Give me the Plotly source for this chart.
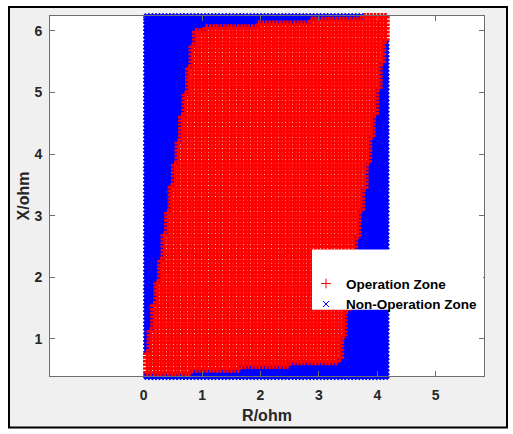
import numpy as np
import plotly.graph_objects as go

# Impedance sweep grid (ohm)
R_START, R_STOP, R_STEP = 0.06, 4.14, 0.06
X_START, X_STOP, X_STEP = 0.40, 6.22, 0.06

# Quadrilateral relay characteristic, vertices in (R, X) order
zone_R = [0.0, 3.36, 4.20, 0.88]
zone_X = [0.40, 0.64, 6.25, 6.03]

x_ticks = [0, 1, 2, 3, 4, 5]
y_ticks = [1, 2, 3, 4, 5, 6]
series_names = ["Operation Zone", "Non-Operation Zone"]


def inside_polygon(px, py, vx, vy):
    """Ray-casting point-in-polygon test, vectorised over px/py."""
    inside = np.zeros(px.shape, dtype=bool)
    n = len(vx)
    j = n - 1
    for i in range(n):
        xi, yi, xj, yj = vx[i], vy[i], vx[j], vy[j]
        cond = ((yi > py) != (yj > py)) & (
            px < (xj - xi) * (py - yi) / (yj - yi + 1e-12) + xi)
        inside ^= cond
        j = i
    return inside


r_vals = np.arange(R_START, R_STOP + R_STEP / 2, R_STEP)
x_vals = np.arange(X_START, X_STOP + X_STEP / 2, X_STEP)
RR, XX = np.meshgrid(r_vals, x_vals)
RR, XX = RR.ravel(), XX.ravel()
trip = inside_polygon(RR, XX, zone_R, zone_X)

fig = go.Figure()

# non-operating points
fig.add_trace(go.Scatter(
    x=RR[~trip], y=XX[~trip], mode="markers", showlegend=False,
    cliponaxis=False, hoverinfo="skip",
    marker=dict(symbol="x-thin", size=6, color="#0000ff",
                line=dict(color="#0000ff", width=3.6))))
# operating points
fig.add_trace(go.Scatter(
    x=RR[trip], y=XX[trip], mode="markers", showlegend=False,
    cliponaxis=False, hoverinfo="skip",
    marker=dict(symbol="cross-thin", size=6, color="#ff0000",
                line=dict(color="#ff0000", width=2.6))))

# legend entries
fig.add_trace(go.Scatter(
    x=[None], y=[None], mode="markers", name=series_names[0],
    marker=dict(symbol="cross-thin", size=7, color="#ff0000",
                line=dict(color="#ff0000", width=1))))
fig.add_trace(go.Scatter(
    x=[None], y=[None], mode="markers", name=series_names[1],
    marker=dict(symbol="x-thin", size=6, color="#0000ff",
                line=dict(color="#0000ff", width=1))))

L, Rpx, T, B = 50, 484, 16, 380
W, H = 513, 434


def px_x(p):
    return (p - L) / (Rpx - L)


def px_y(p):
    return (B - p) / (B - T)


shapes = [
    # window frame
    dict(type="rect", xref="paper", yref="paper", layer="below",
         x0=px_x(9), x1=px_x(507), y0=px_y(432), y1=px_y(7),
         fillcolor="#f0f0f0", line=dict(color="#000000", width=2)),
    # axes background
    dict(type="rect", xref="paper", yref="paper", layer="below",
         x0=0, x1=1, y0=0, y1=1, fillcolor="#ffffff", line=dict(width=0)),
    # legend box
    dict(type="rect", xref="paper", yref="paper", layer="above",
         x0=px_x(312), x1=px_x(483), y0=px_y(313), y1=px_y(252),
         fillcolor="#ffffff", line=dict(width=0)),
]

axis_common = dict(
    showline=True, linecolor="#6e6e6e", linewidth=1, mirror="ticks",
    ticks="inside", ticklen=5, tickcolor="#6e6e6e", showgrid=False,
    zeroline=False,
    tickfont=dict(family="Liberation Sans, Arial", size=14, color="#262626",
                  weight="bold"),
)

fig.update_layout(
    width=W, height=H,
    margin=dict(l=L, r=W - Rpx, t=T, b=H - B),
    paper_bgcolor="#ffffff", plot_bgcolor="rgba(0,0,0,0)",
    shapes=shapes,
    xaxis=dict(range=[-1.604, 5.827], tickvals=x_ticks, **axis_common,
               ticklabelstandoff=6,
               title=dict(text="<b>R/ohm</b>", standoff=8,
                          font=dict(family="Liberation Sans, Arial", size=16,
                                    color="#262626"))),
    yaxis=dict(range=[0.398, 6.241], tickvals=y_ticks, **axis_common,
               ticklabelstandoff=4,
               title=dict(text="<b>X/ohm</b>", standoff=0,
                          font=dict(family="Liberation Sans, Arial", size=16,
                                    color="#262626"))),
    legend=dict(x=px_x(306), y=px_y(271), xanchor="left", yanchor="top",
                bgcolor="rgba(0,0,0,0)", borderwidth=0, tracegroupgap=0,
                font=dict(family="Liberation Sans, Arial", size=13.5,
                          color="#000000", weight="bold")),
)

fig.write_html("out.html")
